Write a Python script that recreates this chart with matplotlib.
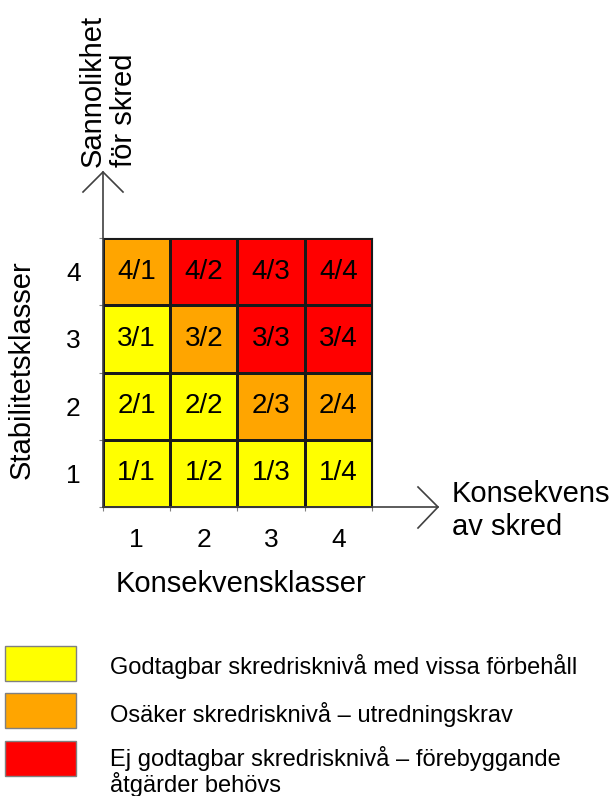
import matplotlib
matplotlib.use("Agg")
import matplotlib.pyplot as plt
import numpy as np
from matplotlib.colors import ListedColormap, BoundaryNorm
from matplotlib.patches import Rectangle

plt.rcParams['font.family'] = ['Liberation Sans', 'DejaVu Sans']

# ---- data ----
stability_classes = [1, 2, 3, 4]        # rows (bottom -> top)
consequence_classes = [1, 2, 3, 4]      # columns (left -> right)
# risk level: 0 = acceptable, 1 = uncertain, 2 = unacceptable
risk_levels = [
    [0, 0, 0, 0],   # stability 1
    [0, 0, 1, 1],   # stability 2
    [0, 1, 2, 2],   # stability 3
    [1, 2, 2, 2],   # stability 4
]
level_colors = ['#FFFF00', '#FFA500', '#FF0000']
legend_labels = [
    'Godtagbar skredrisknivå med vissa förbehåll',
    'Osäker skredrisknivå – utredningskrav',
    'Ej godtagbar skredrisknivå – förebyggande\nåtgärder behövs',
]
x_title = 'Konsekvensklasser'
y_title = 'Stabilitetsklasser'
x_arrow_label = 'Konsekvens\nav skred'
y_arrow_label = ['Sannolikhet', 'för skred']

W, H = 614, 796
fig = plt.figure(figsize=(W / 100, H / 100), dpi=100)

# grid placement in pixels
gx0, gx1, gy0, gy1 = 103, 372, 238, 507

ax = fig.add_axes([gx0 / W, 1 - gy1 / H, (gx1 - gx0) / W, (gy1 - gy0) / H])
cmap = ListedColormap(level_colors)
norm = BoundaryNorm([-0.5, 0.5, 1.5, 2.5], cmap.N)
Z = np.array(risk_levels)
ax.pcolormesh(np.arange(len(consequence_classes) + 1), np.arange(len(stability_classes) + 1),
              Z, cmap=cmap, norm=norm, edgecolors='#1a1a1a', linewidth=0.8)
for i, s in enumerate(stability_classes):
    for j, k in enumerate(consequence_classes):
        ax.text(j + 0.5, i + 0.5, f'{s}/{k}', ha='center', va='center', fontsize=20, color='black')
ax.set_xlim(0, len(consequence_classes))
ax.set_ylim(0, len(stability_classes))
ax.set_xticks(np.arange(len(consequence_classes)) + 0.5)
ax.set_xticklabels([str(c) for c in consequence_classes])
ax.set_yticks(np.arange(len(stability_classes)) + 0.5)
ax.set_yticklabels([str(s) for s in stability_classes])
ax.tick_params(axis='both', which='major', length=0, labelsize=19)
ax.tick_params(axis='x', which='major', pad=15)
ax.tick_params(axis='y', which='major', pad=16)
ax.set_xticks(np.arange(len(consequence_classes) + 1), minor=True)
ax.set_yticks(np.arange(len(stability_classes) + 1), minor=True)
ax.tick_params(which='minor', length=3, color='#808080', width=0.8)
for sp in ax.spines.values():
    sp.set_color('#1a1a1a')
    sp.set_linewidth(0.8)

# overlay in pixel coordinates for arrows, titles and legend
ov = fig.add_axes([0, 0, 1, 1], facecolor='none')
ov.set_xlim(0, W)
ov.set_ylim(H, 0)
ov.axis('off')

lc = '#404040'
lw = 1.2
# vertical axis arrow
ov.plot([gx0, gx0], [gy1, 172], color=lc, lw=lw)
ov.plot([83, gx0, 123], [192, 172, 192], color=lc, lw=lw)
# horizontal axis arrow
ov.plot([gx0, 438], [gy1, gy1], color=lc, lw=lw)
ov.plot([418, 438, 418], [487, gy1, 528], color=lc, lw=lw)

ov.text(93, 167, y_arrow_label[0], rotation=90, ha='center', va='bottom', fontsize=21)
ov.text(124, 167, y_arrow_label[1], rotation=90, ha='center', va='bottom', fontsize=21)
for i, line in enumerate(x_arrow_label.split('\n')):
    ov.text(452, 502 + 33 * i, line, ha='left', va='baseline', fontsize=21)
ov.text(241, 592, x_title, ha='center', va='baseline', fontsize=21)
ov.text(22, 370, y_title, rotation=90, ha='center', va='center', fontsize=21)

# legend
box_x0, box_w, box_h = 5, 71, 35
box_tops = [646, 693, 741]
text_baselines = [674, 722, 766]
for top, base, col, lab in zip(box_tops, text_baselines, level_colors, legend_labels):
    ov.add_patch(Rectangle((box_x0, top), box_w, box_h, facecolor=col, edgecolor='#808080', lw=1.0))
    for i, line in enumerate(lab.split('\n')):
        ov.text(110, base + 26 * i, line, ha='left', va='baseline', fontsize=17)

fig.savefig('out.png', dpi=100)
